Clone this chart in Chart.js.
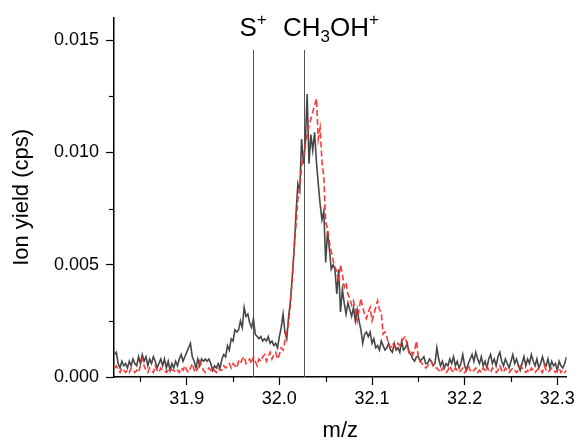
<!DOCTYPE html>
<html>
<head>
<meta charset="utf-8">
<script src="https://cdn.jsdelivr.net/npm/chart.js@4.4.1/dist/chart.umd.min.js"></script>
<style>
  html, body { margin: 0; padding: 0; background: #fff; }
  #wrap { width: 578px; height: 441px; }
</style>
</head>
<body>
<div id="wrap"><canvas id="c" width="578" height="441"></canvas></div>
<script>
// m/z sampling grid of the scan
const mzStart = 31.822;
const mzStep = 0.002;

// solid dark trace
const grayYield = [
  0.0010,0.0011,0.0006,0.0004,0.0007,0.0005,0.0006,0.0004,0.0007,0.0005,
  0.0008,0.0006,0.0005,0.0009,0.0006,0.0010,0.0007,0.0009,0.0005,0.0008,
  0.0006,0.0009,0.0007,0.0004,0.0006,0.0008,0.0005,0.0008,0.0004,0.0007,
  0.0003,0.0006,0.0004,0.0007,0.0005,0.0008,0.0010,0.0007,0.0009,0.0011,
  0.0013,0.0015,0.0009,0.0007,0.0004,0.0008,0.0005,0.0008,0.0007,0.0008,
  0.0007,0.0008,0.0006,0.0003,0.0005,0.0004,0.0006,0.0004,0.0008,0.0010,
  0.0009,0.0014,0.0012,0.0017,0.0016,0.0021,0.0020,0.0021,0.0025,0.0022,
  0.0031,0.0027,0.0028,0.0024,0.0022,0.0026,0.0019,0.0018,0.0017,0.0018,
  0.0016,0.0017,0.0016,0.0018,0.0015,0.0016,0.0014,0.0015,0.0013,0.0018,
  0.0022,0.0028,0.0020,0.0017,0.0027,0.0034,0.0045,0.0057,0.0073,0.0086,
  0.0083,0.0106,0.0095,0.0104,0.0126,0.0095,0.0108,0.0101,0.0109,0.0096,
  0.0086,0.0077,0.0070,0.0074,0.0051,0.0065,0.0057,0.0048,0.0050,0.0048,
  0.0037,0.0048,0.0029,0.0039,0.0033,0.0028,0.0033,0.0030,0.0027,0.0031,
  0.0025,0.0030,0.0025,0.0021,0.0015,0.0019,0.0020,0.0018,0.0020,0.0015,
  0.0017,0.0013,0.0014,0.0012,0.0016,0.0014,0.0012,0.0013,0.0015,0.0012,
  0.0011,0.0015,0.0012,0.0013,0.0011,0.0016,0.0012,0.0013,0.0015,0.0011,
  0.0010,0.0008,0.0007,0.0009,0.0009,0.0007,0.0008,0.0009,0.0006,0.0006,
  0.0008,0.0007,0.0005,0.0006,0.0013,0.0008,0.0005,0.0007,0.0004,0.0006,
  0.0005,0.0008,0.0006,0.0009,0.0005,0.0007,0.0004,0.0006,0.0010,0.0005,
  0.0003,0.0006,0.0008,0.0010,0.0007,0.0011,0.0008,0.0006,0.0009,0.0005,
  0.0007,0.0004,0.0008,0.0010,0.0006,0.0008,0.0005,0.0009,0.0011,0.0007,
  0.0005,0.0008,0.0006,0.0004,0.0007,0.0010,0.0006,0.0008,0.0005,0.0003,
  0.0006,0.0009,0.0005,0.0008,0.0006,0.0010,0.0007,0.0005,0.0008,0.0004,
  0.0006,0.0009,0.0006,0.0005,0.0008,0.0004,0.0007,0.0005,0.0006,0.0003,
  0.0007,0.0005,0.0004,0.0006,0.0009
];

// dashed red trace
const redYield = [
  0.0004,0.0005,0.0003,0.0002,0.0004,0.0003,0.0002,0.0003,0.0002,0.0004,
  0.0003,0.0002,0.0003,0.0002,0.0005,0.0008,0.0005,0.0003,0.0002,0.0004,
  0.0003,0.0002,0.0005,0.0003,0.0002,0.0004,0.0003,0.0003,0.0002,0.0003,
  0.0004,0.0003,0.0003,0.0002,0.0003,0.0002,0.0004,0.0003,0.0005,0.0003,
  0.0002,0.0004,0.0006,0.0003,0.0002,0.0004,0.0007,0.0005,0.0003,0.0002,
  0.0003,0.0004,0.0003,0.0002,0.0003,0.0002,0.0004,0.0003,0.0003,0.0005,
  0.0004,0.0005,0.0006,0.0004,0.0006,0.0005,0.0004,0.0007,0.0006,0.0008,
  0.0009,0.0006,0.0007,0.0008,0.0006,0.0009,0.0007,0.0005,0.0008,0.0007,
  0.0009,0.0010,0.0007,0.0009,0.0011,0.0008,0.0010,0.0011,0.0008,0.0010,
  0.0013,0.0012,0.0016,0.0020,0.0024,0.0033,0.0044,0.0058,0.0068,0.0079,
  0.0085,0.0094,0.0098,0.0104,0.0108,0.0112,0.0115,0.0118,0.0121,0.0124,
  0.0106,0.0111,0.0096,0.0089,0.0069,0.0066,0.0060,0.0056,0.0052,0.0049,
  0.0047,0.0042,0.0050,0.0046,0.0040,0.0042,0.0037,0.0035,0.0032,0.0034,
  0.0030,0.0025,0.0030,0.0035,0.0031,0.0028,0.0026,0.0029,0.0031,0.0025,
  0.0028,0.0031,0.0034,0.0030,0.0029,0.0019,0.0020,0.0018,0.0014,0.0013,
  0.0015,0.0014,0.0013,0.0015,0.0014,0.0016,0.0017,0.0018,0.0014,0.0011,
  0.0012,0.0010,0.0012,0.0016,0.0009,0.0007,0.0006,0.0005,0.0004,0.0005,
  0.0006,0.0007,0.0005,0.0004,0.0004,0.0003,0.0002,0.0004,0.0003,0.0002,
  0.0003,0.0005,0.0003,0.0002,0.0004,0.0003,0.0002,0.0003,0.0004,0.0002,
  0.0003,0.0005,0.0003,0.0002,0.0003,0.0004,0.0002,0.0003,0.0002,0.0004,
  0.0003,0.0005,0.0003,0.0002,0.0004,0.0003,0.0002,0.0003,0.0005,0.0003,
  0.0002,0.0004,0.0003,0.0002,0.0003,0.0004,0.0003,0.0002,0.0003,0.0005,
  0.0004,0.0003,0.0002,0.0003,0.0002,0.0004,0.0003,0.0002,0.0003,0.0004,
  0.0003,0.0002,0.0005,0.0003,0.0002,0.0003,0.0004,0.0003,0.0002,0.0003,
  0.0004,0.0002,0.0003,0.0002,0.0003
];

// axis ticks (minor ones carry no label)
const xTickValues = [31.85, 31.9, 31.95, 32.0, 32.05, 32.1, 32.15, 32.2, 32.25, 32.3];
const xTickMajor = [31.9, 32.0, 32.1, 32.2, 32.3];
const yTickValues = [0, 0.0025, 0.005, 0.0075, 0.01, 0.0125, 0.015];
const yTickMajor = [0, 0.005, 0.01, 0.015];

// reference peak positions and their labels
const peakMz = [31.972, 32.0265];
const peakLabels = [
  [{ t: "S" }, { t: "+", sup: true }],
  [{ t: "CH" }, { t: "3", sub: true }, { t: "OH" }, { t: "+", sup: true }]
];

const FONT = "'Liberation Sans', Arial, sans-serif";
const isMajor = (v, list) => list.some((m) => Math.abs(m - v) < 1e-9);

const mz = grayYield.map((_, i) => +(mzStart + i * mzStep).toFixed(4));

const peakPlugin = {
  id: "peaks",
  beforeDatasetsDraw(chart) {
    const { ctx, chartArea, scales } = chart;
    ctx.save();
    ctx.strokeStyle = "#555";
    ctx.lineWidth = 1;
    peakMz.forEach((m) => {
      const x = Math.round(scales.x.getPixelForValue(m)) + 0.5;
      ctx.beginPath();
      ctx.moveTo(x, 50);
      ctx.lineTo(x, chartArea.bottom);
      ctx.stroke();
    });
    ctx.restore();
  },
  afterDraw(chart) {
    const { ctx, chartArea, scales } = chart;
    ctx.save();
    ctx.fillStyle = "#000";
    ctx.textBaseline = "alphabetic";
    const offsets = [-14, -21];
    peakLabels.forEach((parts, k) => {
      let x = scales.x.getPixelForValue(peakMz[k]) + offsets[k];
      const base = 36;
      parts.forEach((p) => {
        const size = p.sub || p.sup ? 17 : 26;
        ctx.font = size + "px " + FONT;
        const y = p.sub ? base + 6 : p.sup ? base - 11 : base;
        ctx.fillText(p.t, x, y);
        x += ctx.measureText(p.t).width;
      });
    });

    // minor tick marks, shorter than the major ones
    ctx.strokeStyle = "#000";
    ctx.lineWidth = 1.2;
    xTickValues.filter((v) => !isMajor(v, xTickMajor)).forEach((v) => {
      const x = Math.round(scales.x.getPixelForValue(v)) + 0.5;
      ctx.beginPath();
      ctx.moveTo(x, chartArea.bottom);
      ctx.lineTo(x, chartArea.bottom + 5);
      ctx.stroke();
    });
    yTickValues.filter((v) => !isMajor(v, yTickMajor)).forEach((v) => {
      const y = Math.round(scales.y.getPixelForValue(v)) + 0.5;
      ctx.beginPath();
      ctx.moveTo(chartArea.left - 5, y);
      ctx.lineTo(chartArea.left, y);
      ctx.stroke();
    });
    ctx.restore();
  }
};

new Chart(document.getElementById("c"), {
  type: "line",
  data: {
    datasets: [
      {
        label: "red",
        data: mz.map((x, i) => ({ x, y: redYield[i] })),
        borderColor: "rgba(255,45,45,0.95)",
        borderWidth: 1.6,
        borderDash: [6, 3],
        pointRadius: 0,
        tension: 0,
        order: 0
      },
      {
        label: "gray",
        data: mz.map((x, i) => ({ x, y: grayYield[i] })),
        borderColor: "#474747",
        borderWidth: 1.6,
        pointRadius: 0,
        tension: 0,
        order: 1
      }
    ]
  },
  options: {
    responsive: false,
    animation: false,
    events: [],
    layout: { padding: { top: 12, right: 10, left: 0, bottom: 0 } },
    plugins: { legend: { display: false }, tooltip: { enabled: false } },
    scales: {
      x: {
        type: "linear",
        min: 31.8215,
        max: 32.31,
        afterBuildTicks: (s) => { s.ticks = xTickValues.map((value) => ({ value })); },
        afterFit: (s) => { s.height = 64; },
        border: { display: true, color: "#000", width: 1.5 },
        grid: {
          drawOnChartArea: false,
          tickLength: 8,
          tickWidth: 1.2,
          color: (c) => (c.tick && isMajor(c.tick.value, xTickMajor) ? "#000" : "rgba(0,0,0,0)")
        },
        ticks: {
          autoSkip: false,
          maxRotation: 0,
          padding: 3,
          color: "#000",
          font: { family: FONT, size: 18 },
          callback: (v) => (isMajor(v, xTickMajor) ? v.toFixed(1) : "")
        },
        title: {
          display: true,
          text: "m/z",
          color: "#000",
          font: { family: FONT, size: 22 },
          padding: { top: 0, bottom: -3 }
        }
      },
      y: {
        type: "linear",
        min: 0,
        max: 0.016,
        afterBuildTicks: (s) => { s.ticks = yTickValues.map((value) => ({ value })); },
        afterFit: (s) => { s.width = 114; },
        border: { display: true, color: "#000", width: 1.5 },
        grid: {
          drawOnChartArea: false,
          tickLength: 8,
          tickWidth: 1.2,
          color: (c) => (c.tick && isMajor(c.tick.value, yTickMajor) ? "#000" : "rgba(0,0,0,0)")
        },
        ticks: {
          autoSkip: false,
          padding: 7,
          color: "#000",
          font: { family: FONT, size: 18 },
          callback: (v) => (isMajor(v, yTickMajor) ? v.toFixed(3) : "")
        },
        title: {
          display: true,
          text: "Ion yield (cps)",
          color: "#000",
          font: { family: FONT, size: 22 },
          padding: { top: 9, bottom: 0 }
        }
      }
    }
  },
  plugins: [peakPlugin]
});
</script>
</body>
</html>
